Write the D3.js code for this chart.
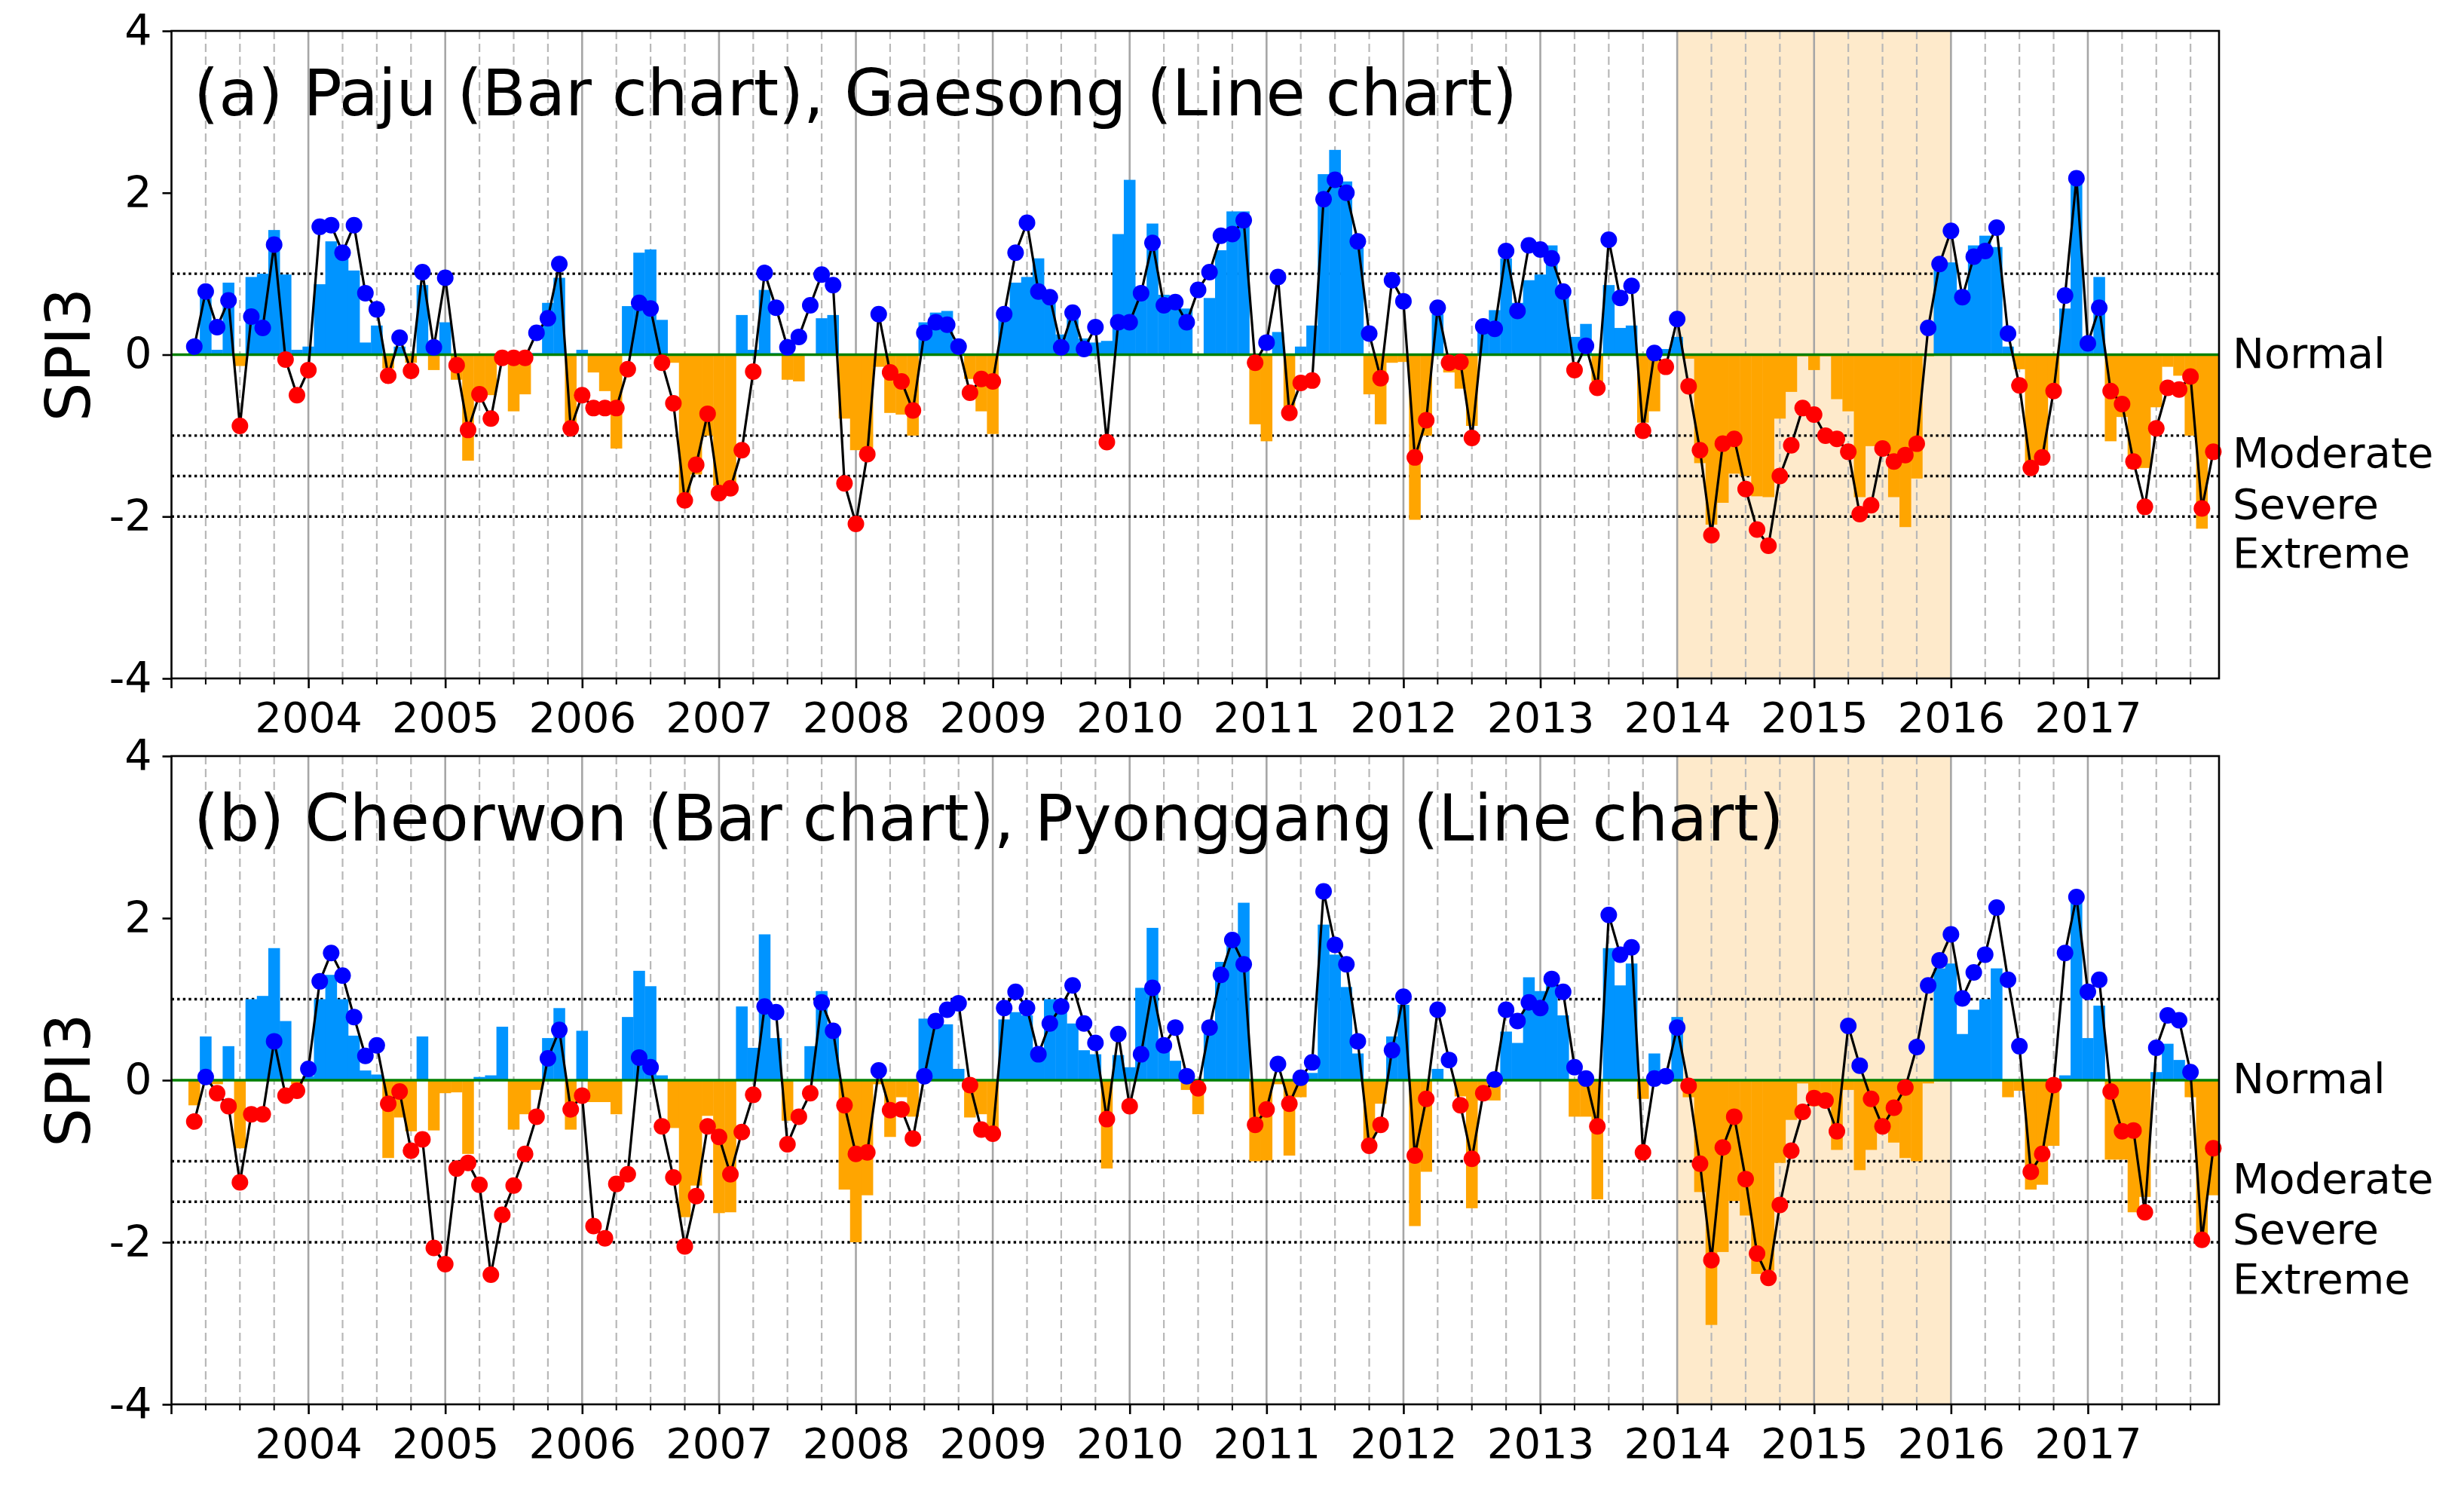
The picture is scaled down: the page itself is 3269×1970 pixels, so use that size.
<!DOCTYPE html>
<html><head><meta charset="utf-8">
<script src="https://cdn.jsdelivr.net/npm/d3@7"></script>
<style>
body{margin:0;background:#fff}
svg{display:block}
text{font-family:"DejaVu Sans",sans-serif;fill:#000}
</style>
</head><body>
<script>
// ---------------- DATA (monthly SPI3, March 2003 .. December 2017) ----------------
const firstYear = 2003, firstMonthIndex = 2;   // data begin in March 2003
const yearTicks = ["2004","2005","2006","2007","2008","2009","2010","2011","2012","2013","2014","2015","2016","2017"];
const yTicks = [-4,-2,0,2,4];
const thresholds = [1,-1,-1.5,-2];
const classLabels = ["Normal","Moderate","Severe","Extreme"];
const classLabelValues = [0.02,-1.21,-1.84,-2.45];
const shadeYears = ["2014","2016"];
const titles = ["(a) Paju (Bar chart), Gaesong (Line chart)","(b) Cheorwon (Bar chart), Pyonggang (Line chart)"];

// Panel (a) bars: Paju
const pajuBars = [
  0.1, 0.77, 0.06, 0.89, -0.14, 0.96, 1.0, 1.54, 0.99, 0.06,
  0.1, 0.87, 1.4, 1.19, 1.04, 0.15, 0.36, -0.17, 0.1, -0.1, 0.86, -0.19,
  0.4, -0.31, -1.31, -0.5, -0.5, -0.05, -0.7, -0.49, 0.02, 0.64, 0.95, -0.9,
  0.06, -0.22, -0.45, -1.16, 0.6, 1.26, 1.3, 0.43, -0.1, -1.74, -1.48, -1.0,
  -1.62, -1.6, 0.49, 0.06, 0.8, 0.02, -0.31, -0.33, 0.0, 0.45, 0.49, -0.79,
  -1.18, -1.15, -0.15, -0.72, -0.74, -1.0, 0.4, 0.52, 0.54, 0.1, -0.3, -0.7,
  -0.98, 0.45, 0.89, 0.96, 1.19, 0.64, 0.25, 0.5, 0.2, 0.15, 0.17, 1.49,
  2.16, 0.84, 1.62, 0.74, 0.64, 0.57, 0.0, 0.7, 1.29, 1.77, 1.77, -0.86,
  -1.07, 0.28, -0.7, 0.1, 0.36, 2.23, 2.53, 2.14, 1.32, -0.49, -0.86, -0.1,
  -0.09, -2.04, -1.0, 0.5, -0.22, -0.42, -0.88, 0.4, 0.55, 1.19, 0.64, 0.92,
  0.99, 1.35, 0.82, 0.22, 0.38, -0.33, 0.86, 0.33, 0.36, -0.84, -0.7, 0.07,
  0.22, -0.05, -1.34, -2.1, -1.83, -1.47, -1.5, -1.75, -1.76, -0.79, -0.46, -0.02,
  -0.19, -0.02, -0.55, -0.7, -1.76, -1.13, -1.2, -1.76, -2.13, -1.53, -0.02, 1.14,
  1.14, 0.8, 1.35, 1.47, 1.33, 0.1, -0.18, -1.42, -1.2, -0.4, 0.57, 2.15,
  0.15, 0.96, -1.07, -0.77, -1.41, -1.4, -0.65, -0.15, -0.26, -1.0, -2.15, -1.15
];
// Panel (a) line: Gaesong
const gaesongLine = [
  0.1, 0.78, 0.34, 0.67, -0.88, 0.47, 0.33, 1.36, -0.06, -0.5,
  -0.19, 1.58, 1.6, 1.26, 1.6, 0.76, 0.56, -0.26, 0.21, -0.2, 1.02, 0.09,
  0.95, -0.13, -0.93, -0.49, -0.79, -0.04, -0.04, -0.04, 0.27, 0.45, 1.12, -0.91,
  -0.5, -0.66, -0.66, -0.66, -0.18, 0.64, 0.57, -0.1, -0.6, -1.8, -1.36, -0.73,
  -1.71, -1.65, -1.18, -0.21, 1.01, 0.58, 0.09, 0.22, 0.61, 0.99, 0.86, -1.59,
  -2.09, -1.23, 0.5, -0.22, -0.33, -0.69, 0.27, 0.4, 0.37, 0.1, -0.47, -0.3,
  -0.33, 0.5, 1.26, 1.63, 0.78, 0.71, 0.09, 0.52, 0.07, 0.34, -1.08, 0.4,
  0.4, 0.76, 1.38, 0.61, 0.65, 0.4, 0.8, 1.02, 1.47, 1.49, 1.66, -0.1,
  0.15, 0.96, -0.72, -0.35, -0.32, 1.92, 2.16, 2.0, 1.4, 0.26, -0.29, 0.92,
  0.66, -1.27, -0.81, 0.58, -0.1, -0.09, -1.03, 0.35, 0.32, 1.28, 0.54, 1.35,
  1.3, 1.19, 0.78, -0.19, 0.11, -0.41, 1.42, 0.7, 0.85, -0.94, 0.02, -0.15,
  0.44, -0.39, -1.18, -2.23, -1.1, -1.04, -1.66, -2.16, -2.36, -1.5, -1.12, -0.66,
  -0.74, -1.0, -1.04, -1.2, -1.97, -1.86, -1.16, -1.32, -1.24, -1.1, 0.33, 1.12,
  1.53, 0.71, 1.21, 1.28, 1.57, 0.26, -0.38, -1.4, -1.27, -0.45, 0.73, 2.18,
  0.14, 0.58, -0.45, -0.61, -1.32, -1.88, -0.91, -0.41, -0.43, -0.27, -1.9, -1.2
];
// Panel (b) bars: Cheorwon
const cheorwonBars = [
  -0.31, 0.54, -0.05, 0.42, -0.84, 1.0, 1.04, 1.63, 0.73, -0.05,
  0.05, 1.0, 1.3, 1.0, 0.55, 0.12, 0.07, -0.96, -0.46, -0.63, 0.54, -0.62,
  -0.16, -0.15, -0.91, 0.04, 0.06, 0.66, -0.61, -0.42, -0.12, 0.52, 0.89, -0.61,
  0.61, -0.27, -0.27, -0.42, 0.78, 1.35, 1.16, 0.06, -0.59, -1.69, -1.3, -0.44,
  -1.64, -1.63, 0.91, 0.4, 1.8, 0.52, -0.5, 0.0, 0.42, 1.1, 0.6, -1.35,
  -2.0, -1.42, -0.05, -0.7, -0.21, -0.45, 0.76, 0.69, 0.69, 0.14, -0.46, -0.42,
  -0.64, 0.75, 0.84, 0.8, 0.39, 1.0, 1.0, 0.7, 0.37, 0.32, -1.09, 0.31,
  0.16, 1.14, 1.88, 0.46, 0.24, -0.12, -0.42, 0.65, 1.46, 1.73, 2.19, -1.0,
  -0.99, -0.05, -0.93, -0.21, 0.09, 1.92, 1.55, 1.15, 0.33, -0.78, -0.29, 0.54,
  0.93, -1.8, -1.13, 0.14, 0.0, -0.2, -1.58, -0.25, -0.25, 0.6, 0.46, 1.27,
  1.1, 1.19, 0.8, -0.45, -0.45, -1.47, 1.63, 1.17, 1.44, -0.23, 0.33, 0.12,
  0.78, -0.21, -1.38, -3.02, -2.12, -1.49, -1.67, -2.39, -2.35, -1.02, -0.49, -0.04,
  -0.32, -0.25, -0.86, -0.12, -1.11, -0.86, -0.58, -0.77, -0.96, -1.0, -0.04, 1.38,
  1.44, 0.57, 0.87, 1.0, 1.38, -0.21, -0.13, -1.35, -1.29, -0.81, 0.06, 2.22,
  0.52, 0.92, -0.98, -0.98, -1.63, -1.44, 0.1, 0.45, 0.25, -0.21, -2.0, -1.42
];
// Panel (b) line: Pyonggang
const pyonggangLine = [
  -0.51, 0.04, -0.16, -0.32, -1.26, -0.42, -0.42, 0.48, -0.19, -0.13,
  0.14, 1.22, 1.57, 1.29, 0.78, 0.3, 0.43, -0.29, -0.14, -0.87, -0.73, -2.07,
  -2.27, -1.09, -1.02, -1.29, -2.4, -1.66, -1.3, -0.91, -0.45, 0.27, 0.62, -0.36,
  -0.19, -1.8, -1.95, -1.28, -1.16, 0.28, 0.16, -0.57, -1.2, -2.05, -1.43, -0.57,
  -0.7, -1.16, -0.64, -0.18, 0.91, 0.84, -0.79, -0.45, -0.16, 0.96, 0.61, -0.31,
  -0.91, -0.89, 0.12, -0.37, -0.36, -0.72, 0.05, 0.73, 0.87, 0.95, -0.06, -0.61,
  -0.66, 0.89, 1.09, 0.89, 0.32, 0.7, 0.91, 1.17, 0.7, 0.46, -0.48, 0.57,
  -0.32, 0.32, 1.14, 0.43, 0.65, 0.05, -0.1, 0.65, 1.3, 1.73, 1.43, -0.55,
  -0.36, 0.2, -0.29, 0.03, 0.22, 2.33, 1.67, 1.43, 0.48, -0.81, -0.55, 0.37,
  1.03, -0.93, -0.23, 0.87, 0.25, -0.31, -0.97, -0.16, 0.01, 0.87, 0.73, 0.96,
  0.89, 1.25, 1.09, 0.16, 0.02, -0.57, 2.04, 1.55, 1.64, -0.89, 0.02, 0.05,
  0.65, -0.07, -1.03, -2.22, -0.83, -0.45, -1.22, -2.14, -2.44, -1.54, -0.87, -0.39,
  -0.22, -0.25, -0.63, 0.67, 0.18, -0.23, -0.57, -0.34, -0.09, 0.41, 1.17, 1.48,
  1.8, 1.01, 1.33, 1.55, 2.13, 1.24, 0.42, -1.13, -0.91, -0.06, 1.57, 2.26,
  1.09, 1.24, -0.14, -0.63, -0.62, -1.63, 0.4, 0.8, 0.74, 0.1, -1.97, -0.84
];

// ---------------- DRAWING ----------------
const W = 3269, H = 1970;
const svg = d3.select("body").append("svg").attr("width", W).attr("height", H);

// x axis in months since January 2003
const x = d3.scaleLinear().domain([0, 179.5]).range([227.5, 2944]);
const monthW = x(1) - x(0);
const yearMonths = yearTicks.map(t => (+t - firstYear) * 12);
const quarterMonths = d3.range(3, 180, 3).filter(m => m % 12 !== 0);

const COL = {
  barPos: "#0094ff", barNeg: "#ffa500", dotPos: "#0000ff", dotNeg: "#ff0000",
  shade: "#feeacb", zero: "#008000"
};

function panel(top, bottom, title, bars, line) {
  const y = d3.scaleLinear().domain([-4, 4]).range([bottom, top]);
  const g = svg.append("g");
  const L = x.range()[0], R = x.range()[1];

  // drought shading 2014-2016
  const s0 = (+shadeYears[0] - firstYear) * 12, s1 = (+shadeYears[1] - firstYear) * 12;
  g.append("rect").attr("x", x(s0)).attr("y", top).attr("width", x(s1) - x(s0)).attr("height", bottom - top)
    .attr("fill", COL.shade);

  // quarterly dashed grid
  g.selectAll(".q").data(quarterMonths).join("line")
    .attr("x1", d => x(d)).attr("x2", d => x(d)).attr("y1", top).attr("y2", bottom)
    .attr("stroke", "#b8b8b8").attr("stroke-width", 2.2).attr("stroke-dasharray", "11,6");
  // yearly solid grid
  g.selectAll(".yl").data(yearMonths).join("line")
    .attr("x1", d => x(d)).attr("x2", d => x(d)).attr("y1", top).attr("y2", bottom)
    .attr("stroke", "#a6a6a6").attr("stroke-width", 2.6);

  // threshold dotted lines
  g.selectAll(".th").data(thresholds).join("line")
    .attr("x1", L).attr("x2", R).attr("y1", d => y(d)).attr("y2", d => y(d))
    .attr("stroke", "#000").attr("stroke-width", 3.4).attr("stroke-dasharray", "3.4,4.2");

  // bars
  const barData = bars.map((v, i) => ({ m: i + firstMonthIndex, v }));
  g.selectAll(".bar").data(barData).join("rect")
    .attr("x", d => x(d.m) - monthW / 2 - 0.2)
    .attr("width", monthW + 0.4)
    .attr("y", d => y(Math.max(0, d.v)))
    .attr("height", d => Math.abs(y(d.v) - y(0)))
    .attr("fill", d => d.v >= 0 ? COL.barPos : COL.barNeg);

  // zero line
  g.append("line").attr("x1", L).attr("x2", R).attr("y1", y(0)).attr("y2", y(0))
    .attr("stroke", COL.zero).attr("stroke-width", 3.4);

  // line + dots
  const lineData = line.map((v, i) => ({ m: i + firstMonthIndex, v }));
  g.append("path").datum(lineData)
    .attr("d", d3.line().x(d => x(d.m)).y(d => y(d.v)))
    .attr("fill", "none").attr("stroke", "#000").attr("stroke-width", 3.2).attr("stroke-linejoin", "round");
  g.selectAll(".dot").data(lineData).join("circle")
    .attr("cx", d => x(d.m)).attr("cy", d => y(d.v)).attr("r", 11)
    .attr("fill", d => d.v >= 0 ? COL.dotPos : COL.dotNeg);

  // frame
  g.append("rect").attr("x", L).attr("y", top).attr("width", R - L).attr("height", bottom - top)
    .attr("fill", "none").attr("stroke", "#000").attr("stroke-width", 2.6);

  // y axis
  const ya = g.append("g").attr("transform", `translate(${L},0)`)
    .call(d3.axisLeft(y).tickValues(yTicks).tickSize(12).tickPadding(14).tickFormat(d => String(d)));
  ya.select(".domain").remove();
  ya.selectAll(".tick line").attr("stroke", "#000").attr("stroke-width", 2.6);
  ya.selectAll(".tick text").style("font-size", "57px").style("font-family", "DejaVu Sans");

  // x axis major ticks (years) + minor ticks (quarters)
  const xa = g.append("g").attr("transform", `translate(0,${bottom})`)
    .call(d3.axisBottom(x).tickValues(yearMonths).tickSize(13).tickPadding(18)
      .tickFormat((d, i) => yearTicks[i]));
  xa.select(".domain").remove();
  xa.selectAll(".tick line").attr("stroke", "#000").attr("stroke-width", 2.6);
  xa.selectAll(".tick text").style("font-size", "56px").style("font-family", "DejaVu Sans");
  g.append("line").attr("x1", L).attr("x2", L).attr("y1", bottom).attr("y2", bottom + 13)
    .attr("stroke", "#000").attr("stroke-width", 2.6);
  g.selectAll(".mt").data(quarterMonths).join("line")
    .attr("x1", d => x(d)).attr("x2", d => x(d)).attr("y1", bottom).attr("y2", bottom + 8)
    .attr("stroke", "#000").attr("stroke-width", 2);

  // title inside
  g.append("text").attr("x", 257).attr("y", top + 112).style("font-size", "85px").text(title);

  // y label
  g.append("text").attr("transform", `translate(119,${(top + bottom) / 2}) rotate(-90)`)
    .attr("text-anchor", "middle").style("font-size", "82px").text("SPI3");

  // class labels on right
  g.selectAll(".cl").data(classLabels).join("text")
    .attr("x", 2962).attr("y", (d, i) => y(classLabelValues[i]))
    .attr("dominant-baseline", "central").style("font-size", "56px").text(d => d);
}

panel(41, 900, titles[0], pajuBars, gaesongLine);
panel(1003, 1863, titles[1], cheorwonBars, pyonggangLine);
</script>
</body></html>
